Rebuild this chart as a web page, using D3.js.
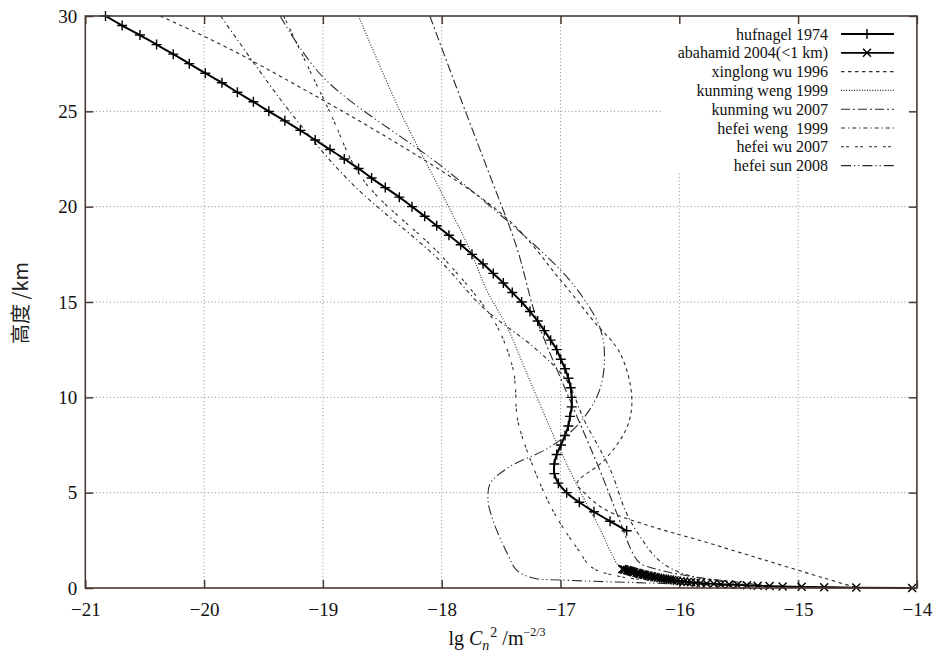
<!DOCTYPE html>
<html><head><meta charset="utf-8">
<script src="https://cdn.jsdelivr.net/npm/d3@7"></script>
<style>body{margin:0;background:#fff}</style>
</head><body>
<svg id="c" width="936" height="664"></svg>
<script>
// ---------- data (height km, lg Cn2) ----------
const xTicks = [-21,-20,-19,-18,-17,-16,-15,-14];
const yTicks = [0,5,10,15,20,25,30];

const hufH = [30,29.5,29,28.5,28,27.5,27,26.5,26,25.5,25,24.5,24,23.5,23,22.5,22,21.5,21,20.5,20,19.5,19,18.5,18,17.5,17,16.5,16,15.5,15,14.5,14,13.5,13,12.5,12,11.5,11,10.5,10,9.5,9,8.5,8,7.5,7,6.5,6,5.5,5,4.5,4,3.5,3];
const hufV = [-20.83,-20.69,-20.54,-20.40,-20.26,-20.125,-19.99,-19.85,-19.72,-19.585,-19.455,-19.32,-19.19,-19.065,-18.94,-18.82,-18.70,-18.59,-18.475,-18.357,-18.25,-18.143,-18.042,-17.939,-17.84,-17.745,-17.652,-17.566,-17.481,-17.406,-17.327,-17.257,-17.192,-17.136,-17.083,-17.032,-16.998,-16.962,-16.934,-16.914,-16.906,-16.906,-16.92,-16.934,-16.962,-16.996,-17.032,-17.052,-17.052,-17.018,-16.948,-16.842,-16.718,-16.583,-16.443];

const abaH = [0,0.02,0.04,0.06,0.08,0.10,0.12,0.14,0.16,0.18,0.20,0.22,0.24,0.26,0.28,0.30,0.32,0.34,0.36,0.38,0.40,0.42,0.44,0.46,0.48,0.50,0.52,0.54,0.56,0.58,0.60,0.62,0.64,0.66,0.68,0.70,0.72,0.74,0.76,0.78,0.80,0.82,0.84,0.86,0.88,0.90,0.92,0.94,0.96,0.98,1.00];
const abaV = [-14.04,-14.51,-14.78,-14.97,-15.13,-15.24,-15.34,-15.43,-15.51,-15.58,-15.65,-15.71,-15.77,-15.82,-15.86,-15.90,-15.93,-15.96,-15.99,-16.02,-16.04,-16.06,-16.08,-16.10,-16.12,-16.14,-16.16,-16.18,-16.20,-16.21,-16.23,-16.24,-16.26,-16.27,-16.29,-16.30,-16.31,-16.33,-16.34,-16.35,-16.36,-16.38,-16.39,-16.40,-16.41,-16.42,-16.43,-16.44,-16.46,-16.47,-16.48];

const xinglongH = [30,27.7,19.7,16.15,14.06,12.33,10.02,8.44,6.71,5.5,5.0,4.1,3.2,2.5,1.5,0.5,0];
const xinglongV = [-20.37,-19.61,-17.51,-17.0,-16.73,-16.50,-16.40,-16.44,-16.63,-16.86,-16.8,-16.62,-16.22,-15.83,-15.30,-14.77,-14.50];

const kmWengH = [30,25,21.2,17.7,15.6,13.7,11.2,8.3,5.5,3,1.8,1.1,0.6,0.3,0.1,0];
const kmWengV = [-18.70,-18.35,-18.04,-17.76,-17.62,-17.45,-17.28,-17.08,-16.87,-16.66,-16.57,-16.50,-16.30,-15.90,-15.30,-14.90];

const kmWuH = [30,25,21.4,17.9,14.1,10,6.2,3.5,1.8,1.3,1.0,0.6,0.3,0];
const kmWuV = [-18.10,-17.80,-17.58,-17.37,-17.20,-16.93,-16.67,-16.50,-16.39,-16.33,-16.20,-15.90,-15.50,-15.10];

const hfWengH = [30,25,21.3,17.2,14.7,12.6,10.9,8.8,6.2,4,2.7,1.5,0.8,0.3,0];
const hfWengV = [-19.86,-19.28,-18.77,-18.02,-17.65,-17.22,-16.95,-16.80,-16.58,-16.45,-16.33,-16.18,-15.99,-15.60,-15.20];

const hfWuH = [30,25.07,21.4,17.4,13.9,11.5,10.5,8.8,6.2,3.9,2.0,1.1,0.6,0.3,0];
const hfWuV = [-19.33,-18.95,-18.66,-18.00,-17.55,-17.40,-17.38,-17.36,-17.22,-17.05,-16.85,-16.74,-16.50,-16.00,-15.40];

const hfSunH = [30,26.8,21.77,16.68,14.95,13.69,12.33,10.39,8.65,7.39,6.35,5.5,4.62,3.57,1.84,0.94,0.52,0.42,0.26,0.1,0.03];
const hfSunV = [-19.36,-19.0,-17.93,-17.0,-16.78,-16.67,-16.63,-16.67,-16.84,-17.09,-17.43,-17.59,-17.61,-17.57,-17.45,-17.37,-17.23,-17.0,-16.25,-15.32,-14.56];

const thinNames = ["xinglong wu 1996","kunming weng 1999","kunming wu 2007","hefei weng  1999","hefei wu 2007","hefei sun 2008"];
const thinData = [[xinglongH,xinglongV],[kmWengH,kmWengV],[kmWuH,kmWuV],[hfWengH,hfWengV],[hfWuH,hfWuV],[hfSunH,hfSunV]];
const thinDash = ["3.5,3.5","1,1.6","9,3,2,3","4,3,1.2,3","3,2,3,6","10,3,1.2,3,1.2,3"];

// ---------- layout ----------
const L=85.3, R=916.9, T=16, B=588;
const svg = d3.select("#c");
const x = d3.scaleLinear().domain([-21,-14]).range([L,R]);
const y = d3.scaleLinear().domain([0,30]).range([B,T]);
const serif = "'Liberation Serif','Times New Roman',serif";
const frameCol = "#4a3a33";

// grid
const grid = svg.append("g");
grid.selectAll(".gx").data(xTicks.slice(1,-1)).join("line")
  .attr("x1",d=>x(d)).attr("x2",d=>x(d)).attr("y1",T).attr("y2",B)
  .attr("stroke","#9a9aa6").attr("stroke-width",1).attr("stroke-dasharray","1.2,2.3");
grid.selectAll(".gy").data(yTicks.slice(1,-1)).join("line")
  .attr("x1",L).attr("x2",R).attr("y1",d=>y(d)).attr("y2",d=>y(d))
  .attr("stroke","#9a9aa6").attr("stroke-width",1).attr("stroke-dasharray","1.2,2.3");

// legend background
svg.append("rect").attr("x",662).attr("y",T+1).attr("width",R-662-1).attr("height",156).attr("fill","#fff");

// axes with inward ticks
function styleAxis(g){ g.select(".domain").remove(); g.selectAll(".tick line").attr("stroke",frameCol).attr("stroke-width",1.5);
  g.selectAll("text").attr("font-family",serif).attr("font-size",19).attr("fill","#111"); }
svg.append("g").attr("transform",`translate(0,${B})`)
  .call(d3.axisBottom(x).tickValues(xTicks).tickSize(-8).tickPadding(10).tickFormat(d3.format("d"))).call(styleAxis)
  .selectAll("text").attr("dy","0.95em");
svg.append("g").attr("transform",`translate(0,${T})`)
  .call(d3.axisTop(x).tickValues(xTicks).tickSize(-8).tickFormat("")).call(styleAxis);
svg.append("g").attr("transform",`translate(${L},0)`)
  .call(d3.axisLeft(y).tickValues(yTicks).tickSize(-8).tickPadding(8).tickFormat(d3.format("d"))).call(styleAxis);
svg.append("g").attr("transform",`translate(${R},0)`)
  .call(d3.axisRight(y).tickValues(yTicks).tickSize(-8).tickFormat("")).call(styleAxis);

// thin curves
const clip = svg.append("clipPath").attr("id","pc").append("rect").attr("x",L).attr("y",T).attr("width",R-L).attr("height",B-T);
const plot = svg.append("g").attr("clip-path","url(#pc)");
const lineHV = d3.line().x(d=>x(d[1])).y(d=>y(d[0])).curve(d3.curveCatmullRom.alpha(0.5));
thinData.forEach((s,i)=>{
  const pts = s[0].map((h,j)=>[h,s[1][j]]);
  plot.append("path").attr("d",lineHV(pts)).attr("fill","none")
    .attr("stroke","#2a2a2a").attr("stroke-width",1.1).attr("stroke-dasharray",thinDash[i]);
});

// hufnagel
const hufPts = hufH.map((h,j)=>[h,hufV[j]]);
plot.append("path").attr("d",d3.line().x(d=>x(d[1])).y(d=>y(d[0])).curve(d3.curveCatmullRom)(hufPts))
  .attr("fill","none").attr("stroke","#000").attr("stroke-width",2);
const plus = (g,cx,cy,s)=>{ g.append("path").attr("d",`M${cx-s},${cy}H${cx+s}M${cx},${cy-s}V${cy+s}`).attr("stroke","#000").attr("stroke-width",1.4); };
const cross = (g,cx,cy,s)=>{ g.append("path").attr("d",`M${cx-s},${cy-s}L${cx+s},${cy+s}M${cx-s},${cy+s}L${cx+s},${cy-s}`).attr("stroke","#000").attr("stroke-width",1.4); };
const mk = svg.append("g");
hufPts.forEach(d=>plus(mk,x(d[1]),y(d[0]),5));

// abahamid
const abaPts = abaH.map((h,j)=>[h,abaV[j]]);
svg.append("path").attr("d",d3.line().x(d=>x(d[1])).y(d=>y(d[0]))(abaPts))
  .attr("fill","none").attr("stroke","#000").attr("stroke-width",1.8);
abaPts.forEach(d=>cross(mk,x(d[1]),y(d[0]),4));

// frame
svg.append("rect").attr("x",L).attr("y",T).attr("width",R-L).attr("height",B-T)
  .attr("fill","none").attr("stroke",frameCol).attr("stroke-width",1.6);

// legend
const lg = svg.append("g");
const names = ["hufnagel 1974","abahamid 2004(<1 km)"].concat(thinNames);
names.forEach((n,i)=>{
  const cy = 34 + i*18.8;
  lg.append("text").attr("x",828).attr("y",cy).attr("dy","0.35em").attr("text-anchor","end")
    .attr("font-family",serif).attr("font-size",16).attr("fill","#111").attr("xml:space","preserve").text(n);
  const ln = lg.append("line").attr("x1",841).attr("x2",894).attr("y1",cy).attr("y2",cy)
    .attr("stroke", i<2 ? "#000" : "#2a2a2a").attr("stroke-width", i<2 ? 1.8 : 1.1);
  if (i>=2) ln.attr("stroke-dasharray",thinDash[i-2]);
  if (i===0) plus(lg,867,cy,5);
  if (i===1) cross(lg,867,cy,4);
});

// axis titles
const xt = svg.append("text").attr("x",497).attr("y",645).attr("text-anchor","middle")
  .attr("font-family",serif).attr("font-size",20).attr("fill","#111");
xt.append("tspan").text("lg ");
xt.append("tspan").attr("font-style","italic").text("C");
xt.append("tspan").attr("font-style","italic").attr("font-size",14).attr("dy",5).text("n");
xt.append("tspan").attr("font-size",14).attr("dy",-13).attr("dx",1).text("2");
xt.append("tspan").attr("dy",8).text(" /m");
xt.append("tspan").attr("font-size",12).attr("dy",-9).text("\u22122/3");

svg.append("text").attr("transform","translate(28,303) rotate(-90)").attr("text-anchor","middle")
  .attr("font-family","'Noto Sans CJK SC','Liberation Serif',serif").attr("font-size",20).attr("fill","#222")
  .text("高度 /km");
</script>
</body></html>
